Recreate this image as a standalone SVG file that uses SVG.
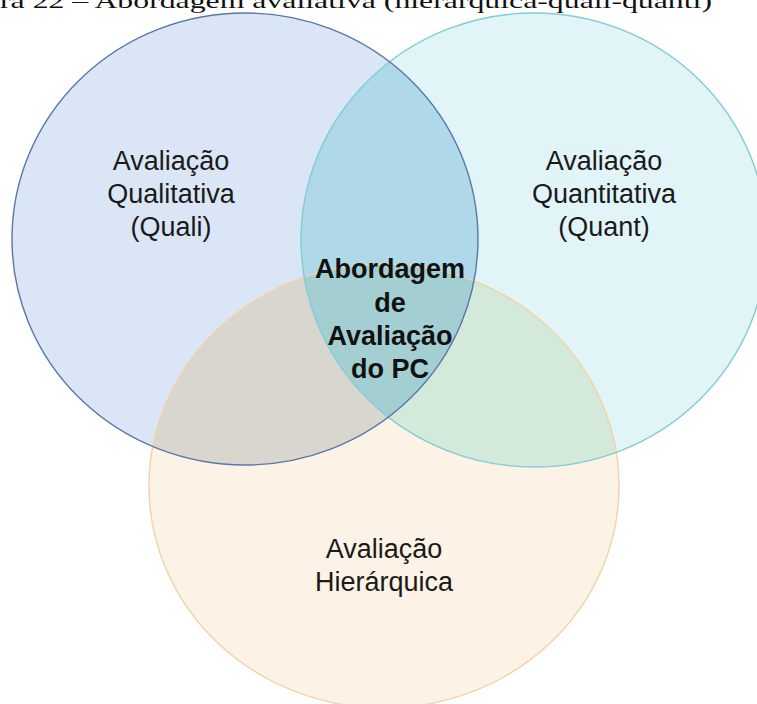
<svg xmlns="http://www.w3.org/2000/svg" xmlns:xlink="http://www.w3.org/1999/xlink" width="757" height="704" viewBox="0 0 757 704">
  <style>
    .lbl { font-family: "Liberation Sans", Arial, sans-serif; font-size: 27px; fill: #1a1a1a; text-anchor: middle; }
    .core { font-family: "Liberation Sans", Arial, sans-serif; font-size: 27px; font-weight: bold; fill: #111; text-anchor: middle; }
    .cap { font-family: "Liberation Serif", "Times New Roman", serif; font-size: 22px; fill: #111; }
    .ring { fill: none; stroke-width: 1.4; }
  </style>
  <defs>
    <ellipse id="eQuali" cx="245" cy="239" rx="233" ry="226"/>
    <ellipse id="eQuant" cx="534" cy="240" rx="233" ry="227"/>
    <ellipse id="eHier" cx="384" cy="486" rx="235" ry="222"/>
    <clipPath id="cQuali"><use xlink:href="#eQuali"/></clipPath>
    <clipPath id="cQuant"><use xlink:href="#eQuant"/></clipPath>
    <clipPath id="cHier"><use xlink:href="#eHier"/></clipPath>
  </defs>

  <rect width="757" height="704" fill="#ffffff"/>

  <!-- caption line, partly outside the top edge -->
  <text class="cap" x="0" y="8" textLength="712" lengthAdjust="spacingAndGlyphs">ra 22 – Abordagem avaliativa (hierárquica-quali-quanti)</text>

  <!-- set fills -->
  <g id="quali">
    <use xlink:href="#eQuali" fill="#dae6f5"/>
  </g>
  <g id="quant">
    <use xlink:href="#eQuant" fill="#e1f5f8"/>
  </g>
  <g id="hierarquica">
    <use xlink:href="#eHier" fill="#fdf2e6"/>
  </g>

  <!-- overlap regions -->
  <g id="overlaps">
    <g clip-path="url(#cQuali)"><use xlink:href="#eQuant" fill="#afd9e8"/></g>
    <g clip-path="url(#cQuali)"><use xlink:href="#eHier" fill="#d9d6d0"/></g>
    <g clip-path="url(#cQuant)"><use xlink:href="#eHier" fill="#d3eadb"/></g>
    <g clip-path="url(#cQuali)"><g clip-path="url(#cQuant)"><use xlink:href="#eHier" fill="#a3cfd2"/></g></g>
  </g>

  <!-- outlines -->
  <g id="outlines">
    <use xlink:href="#eHier" class="ring" stroke="#f0d3a6"/>
    <use xlink:href="#eQuant" class="ring" stroke="#7fcdd6"/>
    <use xlink:href="#eQuali" class="ring" stroke="#5878ab"/>
  </g>

  <!-- labels -->
  <g id="quali-label">
    <text class="lbl" x="171" y="170">Avaliação</text>
    <text class="lbl" x="171" y="203">Qualitativa</text>
    <text class="lbl" x="171" y="236">(Quali)</text>
  </g>
  <g id="quant-label">
    <text class="lbl" x="604" y="170">Avaliação</text>
    <text class="lbl" x="604" y="203">Quantitativa</text>
    <text class="lbl" x="604" y="236">(Quant)</text>
  </g>
  <g id="hier-label">
    <text class="lbl" x="384" y="558">Avaliação</text>
    <text class="lbl" x="384" y="591">Hierárquica</text>
  </g>
  <g id="center">
    <text class="core" x="390" y="278">Abordagem</text>
    <text class="core" x="390" y="312">de</text>
    <text class="core" x="390" y="345">Avaliação</text>
    <text class="core" x="390" y="378">do PC</text>
  </g>
</svg>
